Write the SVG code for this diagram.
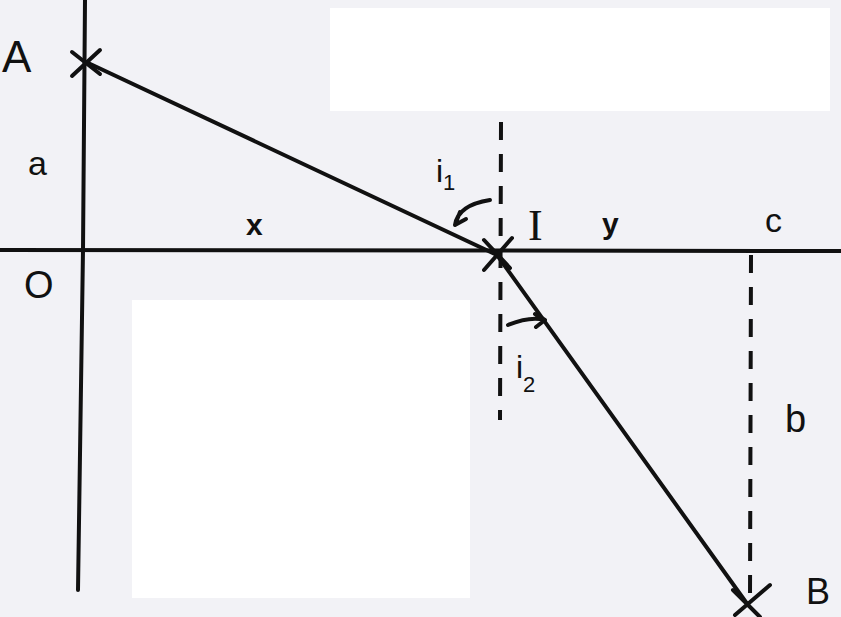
<svg xmlns="http://www.w3.org/2000/svg" width="841" height="617" viewBox="0 0 841 617">
<style>
.ln{stroke:#111;stroke-width:4;fill:none;stroke-linecap:round}
.dash{stroke:#111;stroke-width:4;fill:none;stroke-dasharray:18 14}
.lbl{font-family:"Liberation Sans",Arial,sans-serif;fill:#111}
</style>
<rect x="0" y="0" width="841" height="617" fill="#f2f2f6"/>
<rect x="330" y="8" width="500" height="103" fill="#fff"/>
<rect x="132" y="300" width="338" height="298" fill="#fff"/>
<g id="connectors">
<path class="ln" d="M85 0 L83 250 L78 590"/>
<path class="ln" d="M0 250 L841 251"/>
<path class="ln" d="M86 62 L497 255"/>
<path class="ln" d="M497 255 L748 605"/>
<path class="dash" d="M501 122 L500 420"/>
<path class="dash" d="M751 255 L750 600"/>
<path class="ln" stroke-width="3.5" d="M455 225 Q458 205 490 200 M455 225 L460 212 M455 225 L466 219"/>
<path class="ln" stroke-width="3.5" d="M508 325 Q530 316 545 320 M545 320 L535 314 M545 320 L536 327"/>
</g>
<g id="A">
<path class="ln" d="M72 52 L100 74 M72 76 L100 50"/>
<text class="lbl" x="2" y="72" font-size="44">A</text>
</g>
<g id="a"><text class="lbl" x="28" y="175" font-size="34">a</text></g>
<g id="O"><text class="lbl" x="24" y="298" font-size="38">O</text></g>
<g id="x"><text class="lbl" x="246" y="235" font-size="30" font-weight="bold">x</text></g>
<g id="i1"><text class="lbl" x="436" y="182" font-size="32">i<tspan font-size="22" dy="8">1</tspan></text></g>
<g id="I">
<path class="ln" d="M484 240 L510 268 M484 270 L512 238"/>
<text x="528" y="240" font-size="44" font-family="'Liberation Serif',serif" fill="#111">I</text>
</g>
<g id="y"><text class="lbl" x="602" y="234" font-size="30" font-weight="bold">y</text></g>
<g id="c"><text class="lbl" x="765" y="232" font-size="34">c</text></g>
<g id="i2"><text class="lbl" x="516" y="378" font-size="32">i<tspan font-size="22" dy="14">2</tspan></text></g>
<g id="b"><text class="lbl" x="785" y="432" font-size="38">b</text></g>
<g id="B">
<path class="ln" d="M733 590 L760 617 M735 615 L770 585"/>
<text class="lbl" x="806" y="604" font-size="36">B</text>
</g>
</svg>
